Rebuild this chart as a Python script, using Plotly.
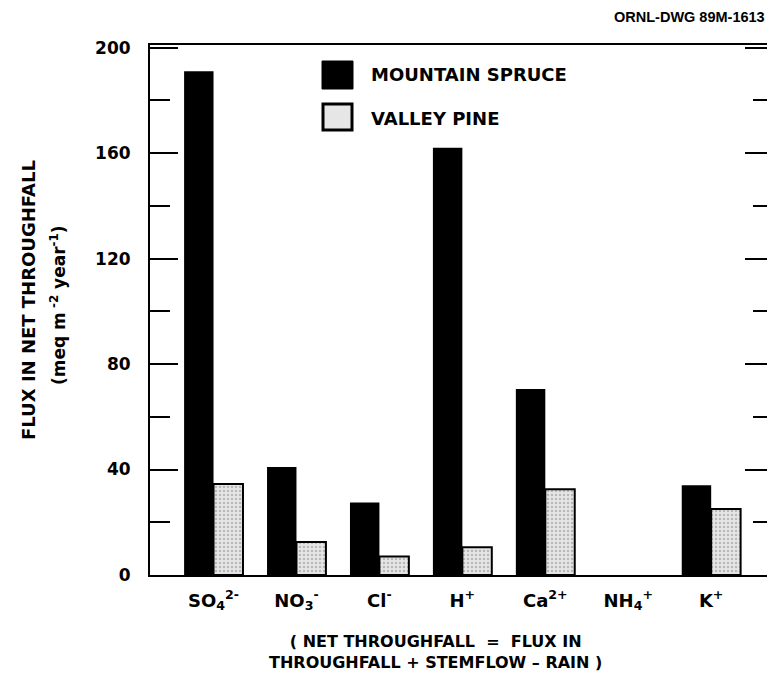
import plotly.graph_objects as go

# Dados (meq m-2 ano-1)
ions = ["SO<sub>4</sub><sup>2-</sup>", "NO<sub>3</sub><sup>-</sup>", "Cl<sup>-</sup>",
        "H<sup>+</sup>", "Ca<sup>2+</sup>", "NH<sub>4</sub><sup>+</sup>", "K<sup>+</sup>"]
mountain_spruce = [191, 41, 27.5, 162, 70.5, 0, 34]
valley_pine = [34.5, 12.5, 7, 10.5, 32.5, 0, 25]

FONT = "DejaVu Sans"

# area do grafico em pixels (para posicionar textos e a legenda)
L, R, T, B = 150, 767, 45, 575
W, H = 767, 699


def px_x(p):
    return (p - L) / (R - L)


def px_y(p):
    return (B - p) / (B - T)


# contorno so nas barras que existem (valor zero nao desenha nada)
pine_line = [2 if v > 0 else 0 for v in valley_pine]

fig = go.Figure()
fig.add_trace(go.Bar(x=ions, y=mountain_spruce, name="MOUNTAIN SPRUCE",
                     marker=dict(color="black", line=dict(color="black", width=0))))
fig.add_trace(go.Bar(x=ions, y=valley_pine, name="VALLEY PINE",
                     marker=dict(color="#e6e6e6", line=dict(color="black", width=pine_line),
                                 pattern=dict(shape=".", fgcolor="#8a8a8a", bgcolor="#e6e6e6",
                                              size=4, solidity=0.3))))
# traco invisivel so para o eixo da direita aparecer
fig.add_trace(go.Scatter(x=[ions[0]], y=[0], yaxis="y2", mode="markers",
                         marker=dict(opacity=0), hoverinfo="skip", showlegend=False))

fig.update_layout(
    width=W, height=H,
    margin=dict(l=L, r=W - R, t=T, b=H - B),
    paper_bgcolor="white", plot_bgcolor="white",
    barmode="group", bargap=0.29, bargroupgap=0,
    showlegend=False,
    font=dict(family=FONT, size=18, color="black", weight="bold"),
    xaxis=dict(range=[-0.766, 6.673], showline=True, linecolor="black", linewidth=2,
               mirror=True, ticks="", showgrid=False, ticklabelstandoff=8,
               tickfont=dict(size=18, weight="bold")),
    yaxis=dict(range=[0, 201], tickvals=[0, 40, 80, 120, 160, 200], showline=True,
               linecolor="black", linewidth=2, ticks="inside", ticklen=28, tickwidth=2,
               tickcolor="black", showgrid=False, zeroline=False, ticklabelstandoff=14,
               tickfont=dict(size=17, weight="bold"),
               minor=dict(dtick=20, ticks="inside", ticklen=20, tickwidth=2, tickcolor="black",
                          showgrid=False)),
    yaxis2=dict(range=[0, 201], overlaying="y", side="right", tickvals=[0, 40, 80, 120, 160, 200],
                ticks="inside", ticklen=22, tickwidth=2, tickcolor="black",
                showticklabels=False, showgrid=False, zeroline=False, showline=False,
                minor=dict(dtick=20, ticks="inside", ticklen=14, tickwidth=2, tickcolor="black",
                           showgrid=False)),
)

# legenda desenhada a mao
fig.add_shape(type="rect", xref="paper", yref="paper",
              x0=px_x(322), x1=px_x(353), y0=px_y(89), y1=px_y(61),
              fillcolor="black", line=dict(color="black", width=1))
fig.add_shape(type="rect", xref="paper", yref="paper",
              x0=px_x(323), x1=px_x(352), y0=px_y(130), y1=px_y(104),
              fillcolor="#e6e6e6", line=dict(color="black", width=3))
fig.add_annotation(text="MOUNTAIN SPRUCE", xref="paper", yref="paper", x=px_x(369), y=px_y(74),
                   xanchor="left", yanchor="middle", showarrow=False, font=dict(size=18))
fig.add_annotation(text="VALLEY PINE", xref="paper", yref="paper", x=px_x(369), y=px_y(119),
                   xanchor="left", yanchor="middle", showarrow=False, font=dict(size=18))

# titulo do eixo y em duas linhas
fig.add_annotation(text="FLUX IN NET THROUGHFALL", xref="paper", yref="paper",
                   x=px_x(28), y=px_y(300), textangle=-90, xanchor="center", yanchor="middle",
                   showarrow=False, font=dict(size=18))
fig.add_annotation(text="(meq m<sup> -2</sup> year<sup>-1</sup>)", xref="paper", yref="paper",
                   x=px_x(58), y=px_y(305), textangle=-90, xanchor="center", yanchor="middle",
                   showarrow=False, font=dict(size=17))

# nota de rodape e codigo do desenho
fig.add_annotation(text="( NET THROUGHFALL  =  FLUX IN<br>THROUGHFALL + STEMFLOW \u2013 RAIN )",
                   xref="paper", yref="paper", x=px_x(435), y=px_y(652),
                   xanchor="center", yanchor="middle", showarrow=False, font=dict(size=16))
fig.add_annotation(text="ORNL-DWG 89M-1613", xref="paper", yref="paper",
                   x=1.0, y=px_y(17), xanchor="right", yanchor="middle", showarrow=False,
                   font=dict(family="Liberation Sans", size=14.5, weight="bold"))

fig.write_html("out.html", config={"displayModeBar": False},
               post_script="document.body.style.margin='0';")
